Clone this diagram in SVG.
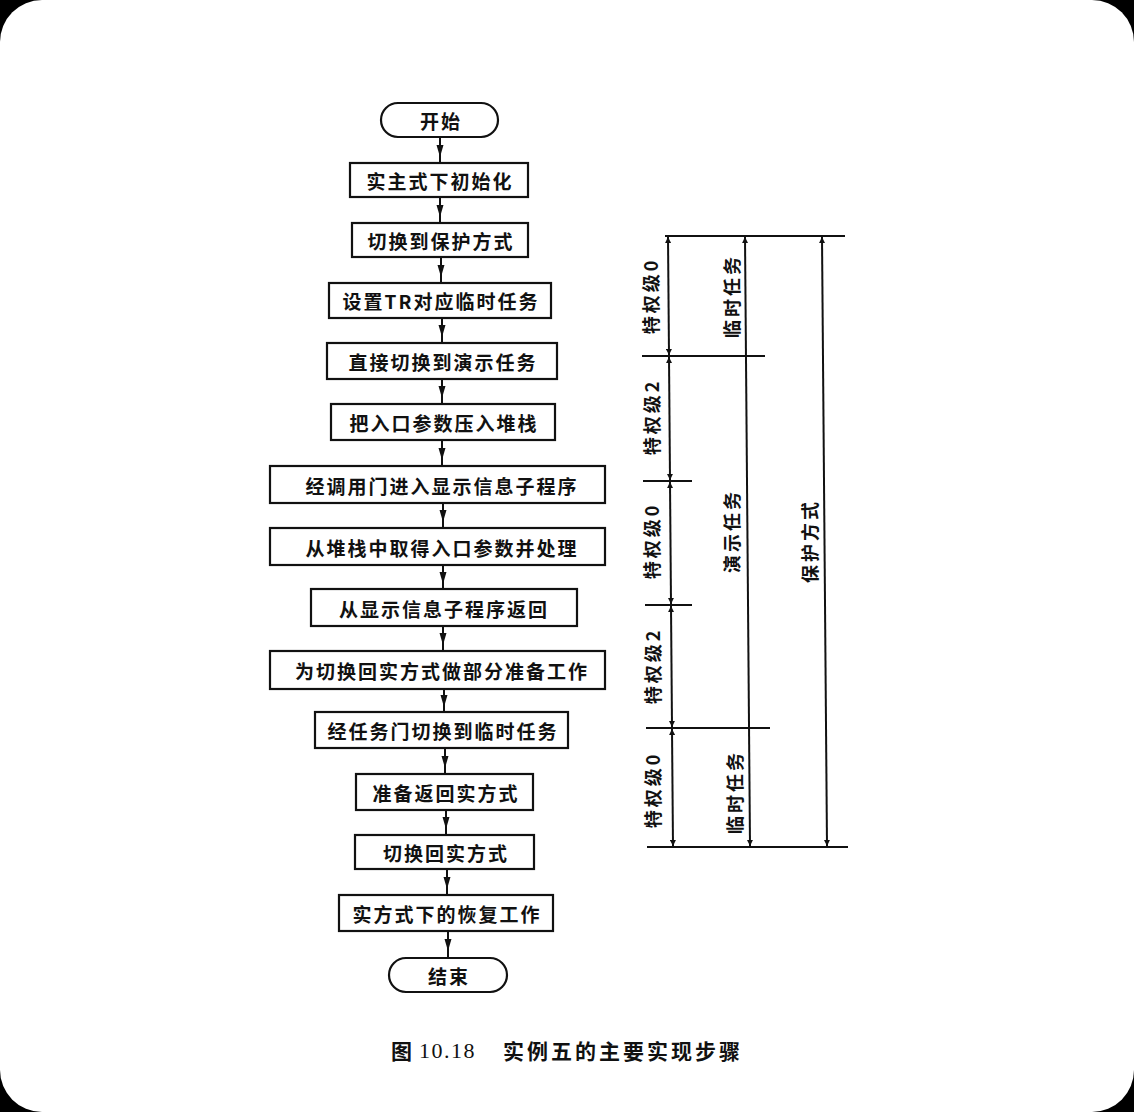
<svg xmlns="http://www.w3.org/2000/svg" width="1134" height="1112" viewBox="0 0 1134 1112">
<defs>
<style>
.box{fill:#fff;stroke:#111;stroke-width:2.2}
.t{font-family:"Noto Sans CJK SC","Noto Sans CJK JP",sans-serif;font-size:19px;font-weight:bold;fill:#111;text-anchor:middle;dominant-baseline:central;letter-spacing:2px}
.v{font-family:"Noto Sans CJK SC","Noto Sans CJK JP",sans-serif;font-size:18px;font-weight:bold;fill:#111;text-anchor:middle;dominant-baseline:central;letter-spacing:3px}
.c{font-family:"Noto Sans CJK SC","Noto Sans CJK JP",sans-serif;font-size:21px;font-weight:bold;fill:#111;dominant-baseline:central}
.ln{stroke:#111;stroke-width:2;fill:none}
.dl{stroke:#111;stroke-width:2;fill:none;marker-start:url(#ah);marker-end:url(#ah)}
</style>
<marker id="mid" viewBox="0 0 12 8" refX="6" refY="4" markerWidth="12" markerHeight="8" markerUnits="userSpaceOnUse" orient="auto">
<path d="M0,0.5 L12,4 L0,7.5 Z" fill="#111"/>
</marker>
<marker id="ah" viewBox="0 0 10 10" refX="10" refY="5" markerWidth="10" markerHeight="6" markerUnits="userSpaceOnUse" orient="auto-start-reverse">
<path d="M0,0 L10,5 L0,10 Z" fill="#111"/>
</marker>
</defs>
<rect x="0" y="0" width="1134" height="1112" fill="#000"/>
<rect x="0" y="0" width="1134" height="1112" rx="42" ry="42" fill="#fff"/>

<g id="connectors">
<path class="ln" marker-mid="url(#mid)" d="M440,137 L440,151 L440,163"/>
<path class="ln" marker-mid="url(#mid)" d="M440,197 L440,211 L440,223"/>
<path class="ln" marker-mid="url(#mid)" d="M441,257 L441,271 L441,283"/>
<path class="ln" marker-mid="url(#mid)" d="M442,318 L442,331 L442,343"/>
<path class="ln" marker-mid="url(#mid)" d="M442,379 L442,392 L442,404"/>
<path class="ln" marker-mid="url(#mid)" d="M442,440 L442,454 L442,466"/>
<path class="ln" marker-mid="url(#mid)" d="M443,503 L443,516 L443,528"/>
<path class="ln" marker-mid="url(#mid)" d="M443,565 L443,578 L443,589"/>
<path class="ln" marker-mid="url(#mid)" d="M443,626 L443,639 L443,651"/>
<path class="ln" marker-mid="url(#mid)" d="M444,689 L444,701 L444,712"/>
<path class="ln" marker-mid="url(#mid)" d="M445,748 L445,762 L445,774"/>
<path class="ln" marker-mid="url(#mid)" d="M446,810 L446,823 L446,835"/>
<path class="ln" marker-mid="url(#mid)" d="M447,869 L447,883 L447,895"/>
<path class="ln" marker-mid="url(#mid)" d="M448,931 L448,945 L448,958"/>
</g>

<g id="n-start"><rect class="box" x="381" y="103" width="117" height="34" rx="17"/><text class="t" x="441" y="120">开始</text></g>
<g id="n1"><rect class="box" x="350" y="163" width="178" height="34"/><text class="t" x="440" y="180">实主式下初始化</text></g>
<g id="n2"><rect class="box" x="352" y="223" width="176" height="34"/><text class="t" x="441" y="240">切换到保护方式</text></g>
<g id="n3"><rect class="box" x="329" y="283" width="222" height="35"/><text class="t" x="441" y="300">设置TR对应临时任务</text></g>
<g id="n4"><rect class="box" x="327" y="343" width="230" height="36"/><text class="t" x="443" y="361">直接切换到演示任务</text></g>
<g id="n5"><rect class="box" x="331" y="404" width="224" height="36"/><text class="t" x="444" y="422">把入口参数压入堆栈</text></g>
<g id="n6"><rect class="box" x="270" y="466" width="335" height="37"/><text class="t" x="442" y="485">经调用门进入显示信息子程序</text></g>
<g id="n7"><rect class="box" x="270" y="528" width="335" height="37"/><text class="t" x="442" y="547">从堆栈中取得入口参数并处理</text></g>
<g id="n8"><rect class="box" x="311" y="589" width="266" height="37"/><text class="t" x="444" y="608">从显示信息子程序返回</text></g>
<g id="n9"><rect class="box" x="270" y="651" width="335" height="38"/><text class="t" x="442" y="670">为切换回实方式做部分准备工作</text></g>
<g id="n10"><rect class="box" x="315" y="712" width="253" height="36"/><text class="t" x="443" y="730">经任务门切换到临时任务</text></g>
<g id="n11"><rect class="box" x="356" y="774" width="177" height="36"/><text class="t" x="446" y="792">准备返回实方式</text></g>
<g id="n12"><rect class="box" x="355" y="835" width="179" height="34"/><text class="t" x="446" y="852">切换回实方式</text></g>
<g id="n13"><rect class="box" x="339" y="895" width="214" height="36"/><text class="t" x="447" y="913">实方式下的恢复工作</text></g>
<g id="n-end"><rect class="box" x="389" y="958" width="118" height="34" rx="17"/><text class="t" x="449" y="975">结束</text></g>

<g id="timeline">
<line class="ln" x1="665" y1="236" x2="845" y2="236"/>
<line class="ln" x1="642" y1="356" x2="765" y2="356"/>
<line class="ln" x1="643" y1="481" x2="692" y2="481"/>
<line class="ln" x1="645" y1="605" x2="692" y2="605"/>
<line class="ln" x1="646" y1="728" x2="770" y2="728"/>
<line class="ln" x1="647" y1="847" x2="848" y2="847"/>
<line class="dl" x1="668" y1="237" x2="669" y2="355"/>
<line class="dl" x1="669" y1="357" x2="670" y2="480"/>
<line class="dl" x1="670" y1="482" x2="671" y2="604"/>
<line class="dl" x1="671" y1="606" x2="672" y2="727"/>
<line class="dl" x1="672" y1="729" x2="673" y2="846"/>
<line class="dl" x1="745" y1="237" x2="750" y2="846"/>
<line class="dl" x1="822" y1="237" x2="827" y2="846"/>
<text class="v" transform="translate(650,296) rotate(-90)">特权级0</text>
<text class="v" transform="translate(651,417) rotate(-90)">特权级2</text>
<text class="v" transform="translate(651,541) rotate(-90)">特权级0</text>
<text class="v" transform="translate(652,666) rotate(-90)">特权级2</text>
<text class="v" transform="translate(652,790) rotate(-90)">特权级0</text>
<text class="v" transform="translate(731,296) rotate(-90)">临时任务</text>
<text class="v" transform="translate(731,531) rotate(-90)">演示任务</text>
<text class="v" transform="translate(734,792) rotate(-90)">临时任务</text>
<text class="v" transform="translate(809,541) rotate(-90)">保护方式</text>
</g>

<g id="caption">
<text class="c" x="391" y="1050">图</text>
<text class="c" x="419" y="1050" style="font-family:'Liberation Serif',serif;font-weight:normal;font-size:22px;letter-spacing:1.5px">10.18</text>
<text class="c" x="503" y="1050" style="letter-spacing:3px">实例五的主要实现步骤</text>
</g>
</svg>
